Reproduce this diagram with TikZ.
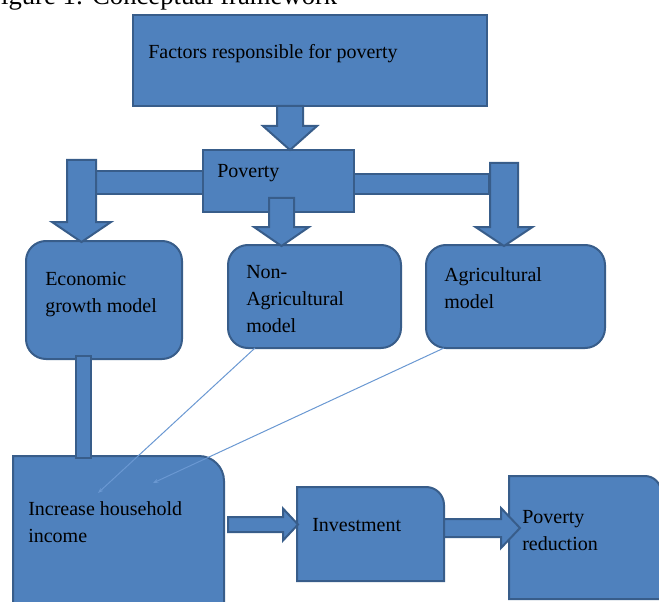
\documentclass[tikz,border=0pt]{standalone}
\usepackage{fontspec}
\setmainfont{Liberation Serif}
\usetikzlibrary{arrows.meta,calc}
\definecolor{boxfill}{HTML}{4F81BD}
\definecolor{boxedge}{HTML}{385D8A}
\definecolor{thinline}{HTML}{6A98D2}
\def\px{0.75pt}
\newcommand{\DownBlk}[6]{% cx, shaft half width, top y, head base y, head half width, tip y
  \path[blk] (#1-#2,#3) -- (#1+#2,#3) -- (#1+#2,#4) -- (#1+#5,#4) -- (#1,#6)
    -- (#1-#5,#4) -- (#1-#2,#4) -- cycle;}
\newcommand{\RightBlk}[6]{% cy, shaft half width, left x, head base x, head half width, tip x
  \path[blk] (#3,#1-#2) -- (#4,#1-#2) -- (#4,#1-#5) -- (#6,#1) -- (#4,#1+#5)
    -- (#4,#1+#2) -- (#3,#1+#2) -- cycle;}
\begin{document}
\begin{tikzpicture}[x=0.75pt,y=-0.75pt,
  box/.style={draw=boxedge, fill=boxfill, line width=1.5pt, inner sep=0pt, outer sep=0pt},
  frame/.style={inner sep=0pt, outer sep=0pt},
  blk/.style={draw=boxedge, fill=boxfill, line width=1.5pt, line join=miter},
  lbl/.style={font=\fontsize{15}{20.25}\selectfont, text=black, inner sep=0pt, align=left, anchor=base west},
  thinconn/.style={draw=thinline, line width=0.75pt, -{Stealth[length=4pt,width=3pt]}}
]
\useasboundingbox (0,0) rectangle (659,602);
\clip (0,0) rectangle (659,602);

% caption (cut off at top, as in the source)
\node[font=\fontsize{20}{24}\selectfont, anchor=base west, inner sep=0pt] (cap) at (-14,4.5) {Figure 1: Conceptual framework};

% plain boxes
\node[box, minimum width=354*\px, minimum height=91*\px] (fac) at (310,60.5) {};
\node[box, minimum width=151*\px, minimum height=62*\px] (pov) at (278.5,181) {};
\node[box, rounded corners=15pt, minimum width=156*\px, minimum height=118*\px] (eco) at (104,300) {};
\node[box, rounded corners=15pt, minimum width=173*\px, minimum height=103*\px] (nag) at (314.5,296.5) {};
\node[box, rounded corners=15pt, minimum width=179*\px, minimum height=103*\px] (agr) at (515.5,296.5) {};

% boxes with one rounded corner
\node[frame, minimum width=211*\px, minimum height=164*\px] (inc) at (118.5,538) {};
\node[frame, minimum width=147*\px, minimum height=94*\px] (inv) at (370.5,534) {};
\node[frame, minimum width=152*\px, minimum height=123*\px] (red) at (585,537.5) {};
\path[box] (inc.south west) -- (inc.north west) -- ([xshift=-18.75pt]inc.north east)
  .. controls ([xshift=-8.4pt]inc.north east) and ([yshift=-8.4pt]inc.north east) ..
  ([yshift=-18.75pt]inc.north east) -- (inc.south east) -- cycle;
\path[box] (inv.south west) -- (inv.north west) -- ([xshift=-13.5pt]inv.north east)
  .. controls ([xshift=-6pt]inv.north east) and ([yshift=-6pt]inv.north east) ..
  ([yshift=-13.5pt]inv.north east) -- (inv.south east) -- cycle;
\path[box] (red.south west) -- (red.north west) -- ([xshift=-12pt]red.north east)
  .. controls ([xshift=-5.4pt]red.north east) and ([yshift=-5.4pt]red.north east) ..
  ([yshift=-12pt]red.north east) -- (red.south east) -- cycle;

% block arrows and bars
\DownBlk{290}{13}{106}{126}{27}{150}
\path[blk] (95,171) rectangle (203,194);
\DownBlk{81.5}{14.5}{160}{222}{29.5}{242}
\DownBlk{281.5}{12.5}{198}{227}{27.5}{246}
\path[blk] (354,174) rectangle (489,194);
\DownBlk{504}{14}{163}{227}{28.5}{246}
\path[blk] (76,356) rectangle (91,458);
\RightBlk{524.5}{7.5}{228}{283}{16}{298}
\RightBlk{528}{9}{444}{501}{20}{520}

% labels (base anchor = baseline of the last line)
\node[lbl] (tfac) at (148,59) {Factors responsible for poverty};
\node[lbl] (tpov) at (217,178) {Poverty};
\node[lbl] (teco) at (45,312) {Economic\\growth model};
\node[lbl] (tnag) at (246,332) {Non-\\Agricultural\\model};
\node[lbl] (tagr) at (444,308) {Agricultural\\model};
\node[lbl] (tinc) at (28,542) {Increase household\\income};
\node[lbl] (tinv) at (312,531) {Investment};
\node[lbl] (tred) at (522,550) {Poverty\\reduction};

% thin connectors
\coordinate (t1) at (98,493);
\coordinate (t2) at (153,483);
\draw[thinconn] ([xshift=20.25pt]nag.south west) -- (t1);
\draw[thinconn] ([xshift=13.5pt]agr.south west) -- (t2);
\end{tikzpicture}
\end{document}
